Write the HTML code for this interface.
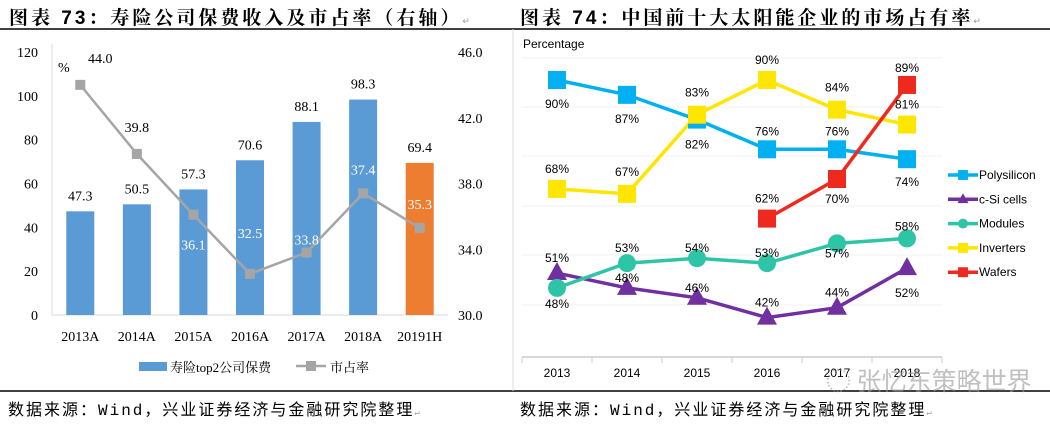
<!DOCTYPE html>
<html><head><meta charset="utf-8">
<style>
body{margin:0;width:1050px;height:426px;background:#fff;overflow:hidden;position:relative;font-family:"Liberation Serif","Noto Serif CJK SC",serif;}
.t{position:absolute;white-space:nowrap}
svg{position:absolute;left:0;top:0}
</style></head><body>
<div class="t" style="left:9px;top:3px;font-size:19px;letter-spacing:3px;font-weight:bold;font-family:'Liberation Sans','Noto Serif CJK SC',serif;">图表 73：寿险公司保费收入及市占率（右轴）<span style="font-size:9px;color:#999;font-weight:normal">↵</span></div>
<div class="t" style="left:520px;top:3px;font-size:19px;letter-spacing:3px;font-weight:bold;font-family:'Liberation Sans','Noto Serif CJK SC',serif;">图表 74：中国前十大太阳能企业的市场占有率<span style="font-size:9px;color:#999;font-weight:normal">↵</span></div>
<div class="t" style="left:8px;top:396px;font-size:16px;letter-spacing:2px;font-family:'Liberation Mono','Noto Sans CJK SC',monospace;">数据来源：Wind，兴业证券经济与金融研究院整理<span style="font-size:9px;color:#999">↵</span></div>
<div class="t" style="left:520px;top:396px;font-size:16px;letter-spacing:2px;font-family:'Liberation Mono','Noto Sans CJK SC',monospace;">数据来源：Wind，兴业证券经济与金融研究院整理<span style="font-size:9px;color:#999">↵</span></div>
<svg id="s" width="1050" height="426" xmlns="http://www.w3.org/2000/svg" font-family="Liberation Serif, serif">
<line x1="0" y1="29" x2="1050" y2="29" stroke="#000" stroke-width="1.5"/>
<line x1="0" y1="391" x2="1050" y2="391" stroke="#000" stroke-width="1.5"/>
<line x1="513" y1="29" x2="513" y2="391" stroke="#ddd"/>
<g id="left"></g><g id="right"></g>
</svg>
<div class="t" style="left:826px;top:362px;font-size:25px;color:rgba(150,150,150,0.6);font-family:'Noto Sans CJK SC',sans-serif;">◌ 张忆东策略世界</div>
<script>
const years=["2013A","2014A","2015A","2016A","2017A","2018A","20191H"];
const premiums=[47.3,50.5,57.3,70.6,88.1,98.3,69.4];
const share=[44.0,39.8,36.1,32.5,33.8,37.4,35.3];
const leftTicks=[0,20,40,60,80,100,120];
const rightTicks=[30.0,34.0,38.0,42.0,46.0];

const pyears=["2013","2014","2015","2016","2017","2018"];
const polysilicon=[90,87,82,76,76,74];
const csi=[51,48,46,42,44,52];
const modules=[48,53,54,53,57,58];
const inverters=[68,67,83,90,84,81];
const wafers=[null,null,null,62,70,89];

const NS="http://www.w3.org/2000/svg";
function mk(p,tag,a,txt){const e=document.createElementNS(NS,tag);for(const k in a)e.setAttribute(k,a[k]);if(txt!==undefined)e.textContent=txt;p.appendChild(e);return e;}
const L=document.getElementById('left'),R=document.getElementById('right');

// left chart
const lx0=52,lx1=448,ly0=315,ly1=52;
const xL=i=>lx0+(i+0.5)*(lx1-lx0)/years.length;
const yL=v=>ly0-(v/120)*(ly0-ly1);
const yR=v=>ly0-((v-30)/16)*(ly0-ly1);
let e;
e=mk(L,'line',{x1:lx0,y1:ly1-8,x2:lx0,y2:ly0,stroke:'#d9d9d9'});

e=mk(L,'line',{x1:lx0,y1:ly0,x2:lx1,y2:ly0,stroke:'#d9d9d9'});

leftTicks.forEach(t=>{e=mk(L,'text',{x:38,y:yL(t)+5,'text-anchor':'end','font-size':14},t);
});
rightTicks.forEach(t=>{e=mk(L,'text',{x:458,y:yR(t)+5,'font-size':14},t.toFixed(1));
});
premiums.forEach((v,i)=>{
 e=mk(L,'rect',{x:xL(i)-14,y:yL(v),width:28,height:ly0-yL(v),fill:i==6?'#ed7d31':'#5b9bd5'});
 
 e=mk(L,'text',{x:xL(i),y:yL(v)-11,'text-anchor':'middle','font-size':14},v.toFixed(1));
 
 e=mk(L,'text',{x:xL(i),y:ly0+26,'text-anchor':'middle','font-size':14},years[i]);
 
});
e=mk(L,'polyline',{points:share.map((v,i)=>xL(i)+','+yR(v)).join(' '),fill:'none',stroke:'#a5a5a5','stroke-width':2.5});

const shareOff=[-22,-22,35,-36,-8,-19,-19];
share.forEach((v,i)=>{
 e=mk(L,'rect',{x:xL(i)-5,y:yR(v)-5,width:10,height:10,fill:'#a5a5a5'});
 
 const ox=i==0?20:0;
 e=mk(L,'text',{x:xL(i)+ox,y:yR(v)+shareOff[i],'text-anchor':'middle','font-size':14,fill:(i>=2?'#fff':'#000')},v.toFixed(1));
 
});
e=mk(L,'text',{x:58,y:72,'font-size':14},'%');

e=mk(L,'rect',{x:139,y:362,width:28,height:9,fill:'#5b9bd5'});

e=mk(L,'text',{x:170,y:372,'font-size':13,'font-family':'Liberation Serif, Noto Serif CJK SC, serif'},'寿险top2公司保费');

e=mk(L,'line',{x1:296,y1:366,x2:326,y2:366,stroke:'#a5a5a5','stroke-width':2.5});

e=mk(L,'rect',{x:306,y:361,width:10,height:10,fill:'#a5a5a5'});

e=mk(L,'text',{x:330,y:372,'font-size':13,'font-family':'Liberation Serif, Noto Serif CJK SC, serif'},'市占率');


// right chart
const rx0=522,rx1=942,rb=357;
const xP=i=>rx0+(i+0.5)*(rx1-rx0)/pyears.length;
const yP=v=>80+(90-v)*4.95;
[58,107,156,206,255,305].forEach(g=>{e=mk(R,'line',{x1:rx0,y1:g,x2:rx1,y2:g,stroke:'#f0f0f0'});
});
e=mk(R,'line',{x1:rx0,y1:rb,x2:rx1,y2:rb,stroke:'#ccc','stroke-width':1.5});

for(let i=0;i<=6;i++){e=mk(R,'line',{x1:rx0+i*(rx1-rx0)/6,y1:rb,x2:rx0+i*(rx1-rx0)/6,y2:rb+6,stroke:'#ccc'});
}
pyears.forEach((y,i)=>{e=mk(R,'text',{x:xP(i),y:rb+20,'text-anchor':'middle','font-size':12,'font-family':'Liberation Sans, sans-serif'},y);
});
e=mk(R,'text',{x:523,y:48,'font-size':12,'font-family':'Liberation Sans, sans-serif'},'Percentage');

const series=[
 {n:'polysilicon',d:polysilicon,c:'#00b0f0',m:'sq',off:[24,24,25,-18,-18,23]},
 {n:'csi',d:csi,c:'#7030a0',m:'tri',off:[-15,-10,-10,-15,-15,25]},
 {n:'modules',d:modules,c:'#2ec4a6',m:'ci',off:[16,-15,-10,-10,10,-12]},
 {n:'inverters',d:inverters,c:'#ffe600',m:'sq',off:[-20,-22,-22,-20,-22,-20]},
 {n:'wafers',d:wafers,c:'#ee2a1e',m:'sq',off:[0,0,0,-20,20,-17]}
];
function marker(p,m,x,y,c){
 if(m=='sq')return mk(p,'rect',{x:x-9,y:y-9,width:18,height:18,fill:c});
 if(m=='ci')return mk(p,'circle',{cx:x,cy:y,r:9,fill:c});
 return mk(p,'polygon',{points:`${x},${y-11} ${x+10},${y+7} ${x-10},${y+7}`,fill:c});
}
series.forEach(s=>{
 const pts=[];s.d.forEach((v,i)=>{if(v!==null)pts.push(xP(i)+','+yP(v));});
 e=mk(R,'polyline',{points:pts.join(' '),fill:'none',stroke:s.c,'stroke-width':3.5});
 
});
series.forEach(s=>{
 s.d.forEach((v,i)=>{if(v===null)return;
  e=marker(R,s.m,xP(i),yP(v),s.c);
  
  e=mk(R,'text',{x:xP(i),y:yP(v)+s.off[i]+4,'text-anchor':'middle','font-size':12,'font-family':'Liberation Sans, sans-serif'},v+'%');
  
 });
});
const legNames=['Polysilicon','c-Si cells','Modules','Inverters','Wafers'];
series.forEach((s,k)=>{const y=175+k*24.3;
 e=mk(R,'line',{x1:948,y1:y,x2:978,y2:y,stroke:s.c,'stroke-width':3.5});
 
 e=marker(R,s.m,963,y,s.c);e.setAttribute('transform',`translate(${963*0.45},${y*0.45}) scale(0.55)`);
 
 e=mk(R,'text',{x:979,y:y+4,'font-size':12,'font-family':'Liberation Sans, sans-serif'},legNames[k]);
 
});
</script>
</body></html>
